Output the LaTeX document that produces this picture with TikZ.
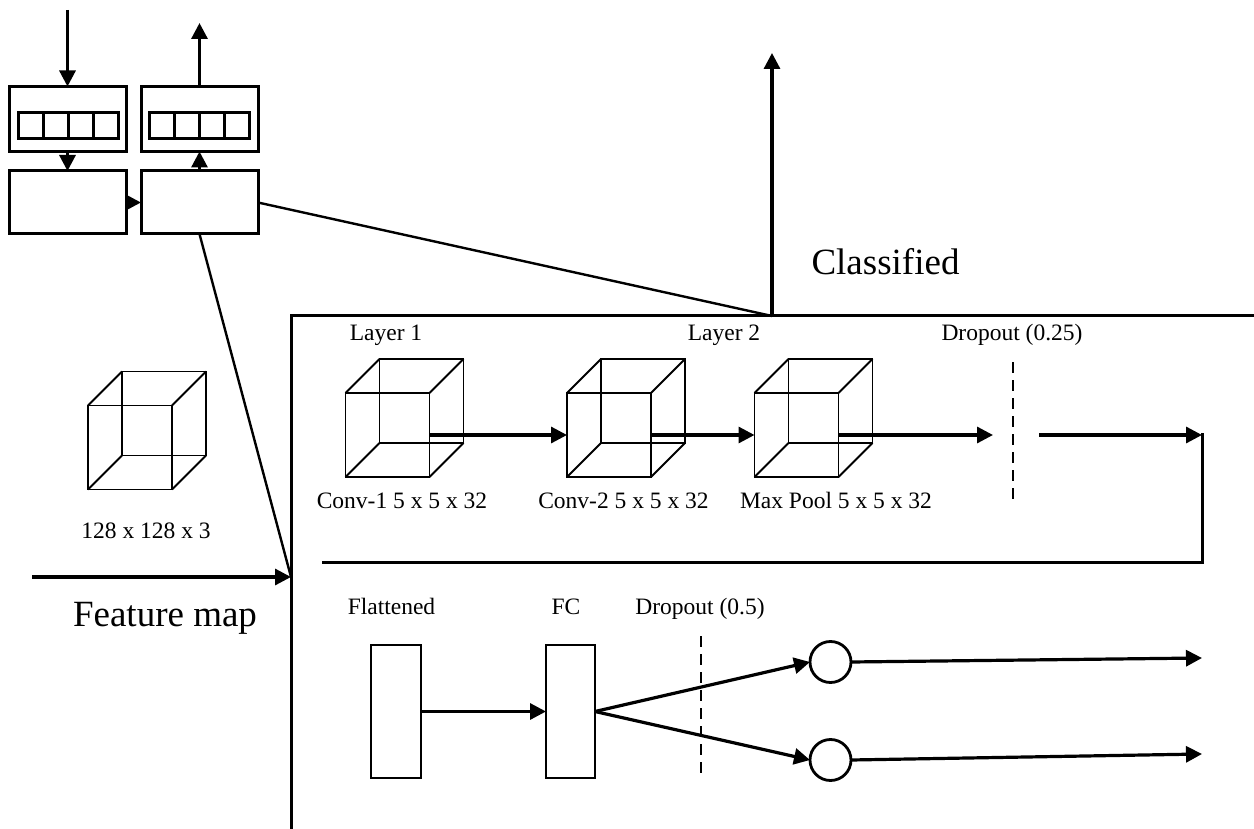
\documentclass[tikz,border=0pt]{standalone}
\usepackage{fontspec}
\setmainfont{Liberation Serif}
\usetikzlibrary{arrows.meta}
\tikzset{
  every node/.style={inner sep=0pt, outer sep=0pt},
  lbl/.style={font=\fontsize{23.5}{28}\selectfont, anchor=base},
  biglbl/.style={font=\fontsize{37}{44}\selectfont, anchor=base},
  arr/.style={line width=3.2pt, -{Triangle[length=16pt,width=16pt]}},
  plainline/.style={line width=3pt},
  slant/.style={line width=2.4pt},
  cubeline/.style={line width=1.8pt},
  dropline/.style={line width=2.4pt, dash pattern=on 11pt off 7pt},
  membox/.style={draw, line width=3pt, minimum width=117pt, minimum height=65pt},
  procbox/.style={draw, line width=3pt, minimum width=117pt, minimum height=63pt},
  cellline/.style={line width=3pt},
  layerbar/.style={draw, line width=2.8pt, minimum width=50pt, minimum height=133pt},
  neuron/.style={draw, circle, line width=2.8pt, minimum size=41pt},
}
\newcommand\wirecube[3]{%
  \node[draw, cubeline, minimum width=84pt, minimum height=84pt] (#1) at (#2,#3) {};
  \draw[cubeline] ([shift={(34,-34)}]#1.north west) rectangle ([shift={(34,-34)}]#1.south east);
  \foreach \c in {north west, north east, south west, south east}
    \draw[cubeline] (#1.\c) -- ++(34,-34);
}
\begin{document}
\begin{tikzpicture}[x=1pt, y=-1pt]
\useasboundingbox (0,0) rectangle (1254,829);
\fill[white] (0,0) rectangle (1254,829);

% --- top-left memory block ---
\node[membox] (b1) at (67.5,119) {};
\node[membox] (b2) at (199.5,119) {};
\node[procbox] (b3) at (67.5,202.5) {};
\node[procbox] (b4) at (199.5,202.5) {};
\draw[cellline] (18,113) rectangle (118,139);
\foreach \x in {43,68,93} \draw[cellline] (\x,113) -- (\x,139);
\draw[cellline] (149.5,113) rectangle (249.5,139);
\foreach \x in {174.5,199.5,224.5} \draw[cellline] (\x,113) -- (\x,139);

\coordinate (inTop) at (67.5,10);
\coordinate (outTop) at (199.5,23);
\draw[arr] (inTop) -- (b1.north);
\draw[arr] (b1.south) -- (b3.north);
\draw[arr] (b3.east) -- (b4.west);
\draw[arr] (b4.north) -- (b2.south);
\draw[arr] (b2.north) -- (outTop);

% --- main panel ---
\coordinate (cl) at (772,316);
\coordinate (fm) at (291,577);
\draw[plainline] (291,829) -- (291,316) -- (1256,316);
\draw[slant] (b4.east) -- (cl);
\draw[slant] (b4.south) -- (fm);
\coordinate (clTop) at (772,53);
\draw[arr] (cl) -- (clTop);
\node[biglbl] (tcl) at (885.5,275) {Classified};

\coordinate (fmStart) at (32,577);
\draw[arr] (fmStart) -- (fm);
\node[biglbl] (tfm) at (165,626) {Feature map};

% input cube
\wirecube{cin}{130}{447.5}
\node[lbl] (tin) at (146,538) {128 x 128 x 3};

% conv cubes
\wirecube{c1}{387.5}{435}
\wirecube{c2}{609}{435}
\wirecube{c3}{796.5}{435}
\draw[arr] (c1.east) -- (c2.west);
\draw[arr] (c2.east) -- (c3.west);
\coordinate (d1a) at (993,435);
\draw[arr] (c3.east) -- (d1a);
\coordinate (dt) at (1013,362);
\coordinate (db) at (1013,505);
\draw[dropline] (dt) -- (db);
\coordinate (d1b) at (1039,435);
\coordinate (rt) at (1202,435);
\draw[arr] (d1b) -- (rt);
\coordinate (rc) at (1202,562);
\coordinate (rl) at (322,562);
\draw[plainline] (1202,433.4) -- (rc) -- (rl);

\node[lbl] (tl1) at (386,341) {Layer 1};
\node[lbl] (tl2) at (724,341) {Layer 2};
\node[lbl] (td1) at (1012,341) {Dropout (0.25)};
\node[lbl] (tc1) at (402,508) {Conv-1 5 x 5 x 32};
\node[lbl] (tc2) at (623.5,508) {Conv-2 5 x 5 x 32};
\node[lbl] (tc3) at (836,508) {Max Pool 5 x 5 x 32};

% --- lower row ---
\node[layerbar] (fl) at (396,711.5) {};
\node[layerbar, minimum width=49pt] (fc) at (570.5,711.5) {};
\node[neuron] (o1) at (830.5,662) {};
\node[neuron] (o2) at (830.5,760) {};
\draw[arr] (fl.east) -- (fc.west);
\draw[arr] (fc.east) -- (o1.west);
\draw[arr] (fc.east) -- (o2.west);
\coordinate (d2t) at (701,636);
\coordinate (d2b) at (701,779);
\draw[dropline] (d2t) -- (d2b);
\coordinate (y1) at (1202,658);
\coordinate (y2) at (1202,754);
\draw[arr] (o1.east) -- (y1);
\draw[arr] (o2.east) -- (y2);

\node[lbl] (tfl) at (391.5,614) {Flattened};
\node[lbl] (tfc) at (566,614) {FC};
\node[lbl] (td2) at (700,614) {Dropout (0.5)};
\end{tikzpicture}
\end{document}
